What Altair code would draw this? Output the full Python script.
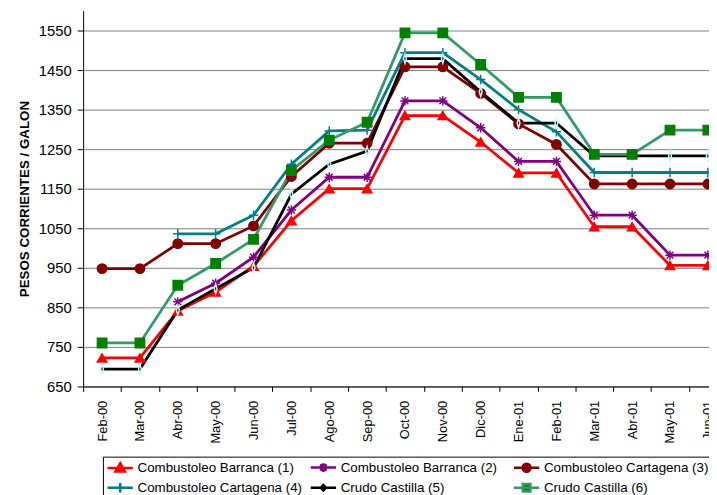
import altair as alt
import pandas as pd

months = ["Feb-00", "Mar-00", "Abr-00", "May-00", "Jun-00", "Jul-00", "Ago-00", "Sep-00",
          "Oct-00", "Nov-00", "Dic-00", "Ene-01", "Feb-01", "Mar-01", "Abr-01", "May-01", "Jun-01"]

series = ["Combustoleo Barranca (1)", "Combustoleo Barranca (2)", "Combustoleo Cartagena (3)",
          "Combustoleo Cartagena (4)", "Crudo Castilla (5)", "Crudo Castilla (6)"]

barranca_1 = [722, 722, 841, 889, 954, 1069, 1150, 1150, 1335, 1335, 1268, 1190, 1190, 1054, 1054, 956, 956]
barranca_2 = [None, None, 864, 911, 977, 1096, 1179, 1179, 1372, 1372, 1304, 1219, 1219, 1083, 1083, 982, 982]
cartagena_3 = [948, 948, 1011, 1011, 1056, 1181, 1265, 1265, 1458, 1458, 1391, 1314, 1262, 1162, 1162, 1162, 1162]
cartagena_4 = [None, None, 1036, 1036, 1083, 1212, 1296, 1298, 1494, 1494, 1426, 1350, 1294, 1191, 1191, 1191, 1191]
castilla_5 = [694, 694, 843, 897, 950, 1136, 1212, 1245, 1479, 1479, 1395, 1316, 1316, 1233, 1233, 1233, 1233]
castilla_6 = [760, 760, 906, 961, 1022, 1196, 1273, 1318, 1544, 1544, 1464, 1381, 1381, 1237, 1237, 1298, 1298]

y_ticks = [650, 750, 850, 950, 1050, 1150, 1250, 1350, 1450, 1550]

# styles
line_colors = ["#FF0000", "#800080", "#800000", "#008080", "#000000", "#339966"]
fill_colors = ["#FF0000", "#800080", "#800000", "#008080", "#000000", "#008000"]
stroke_colors = ["#FF0000", "#800080", "#800000", "#008080", "#BFF7FF", "#008000"]
asterisk = "M-1,0H1M0,-1V1M-0.72,-0.72L0.72,0.72M-0.72,0.72L0.72,-0.72"
plus = "M-1,0H1M0,-1V1"
sliver = "M0,-1L0.3,0L0,1L-0.3,0Z"
shapes = ["triangle-up", asterisk, "circle", plus, sliver, "square"]
sizes = [90, 90, 80, 90, 60, 100]

# legend symbols: line segment plus marker (1 unit = 6px)
legend_paths = [
    "M-2.13,0H2.13M0,-0.8L0.8,0.6L-0.8,0.6Z",
    "M-2.13,0H2.13M-0.73,0H0.73M0,-0.73V0.73M-0.53,-0.53L0.53,0.53M-0.53,0.53L0.53,-0.53",
    "M-2.13,0H2.13M-0.67,0A0.67,0.67 0 1,0 0.67,0A0.67,0.67 0 1,0 -0.67,0Z",
    "M-2.13,0H2.13M-0.8,0H0.8M0,-0.8V0.8",
    "M-2.13,0H2.13M0,-0.47L0.47,0L0,0.47L-0.47,0Z",
    "M-2.13,0H2.13M-0.64,-0.64H0.64V0.64H-0.64Z",
]

rows = []
for name, vals in zip(series, [barranca_1, barranca_2, cartagena_3, cartagena_4, castilla_5, castilla_6]):
    for m, v in zip(months, vals):
        if v is not None:
            rows.append({"mes": m, "serie": name, "valor": v})
df = pd.DataFrame(rows)

x_enc = alt.X(
    "mes:N",
    sort=months,
    scale=alt.Scale(type="band", paddingInner=0, paddingOuter=0, range=[0, 651]),
    axis=alt.Axis(title=None, labelAngle=-90, tickBand="extent", grid=False, labelFontSize=13,
                  labelPadding=9, tickSize=5, domainColor="#000000", tickColor="#000000",
                  labelColor="#000000"),
)
y_enc = alt.Y(
    "valor:Q",
    scale=alt.Scale(domain=[650, 1600], nice=False, zero=False),
    axis=alt.Axis(values=y_ticks, format="d", title="PESOS CORRIENTES / GALON", grid=True,
                  gridColor="#808080", domainColor="#000000", tickColor="#000000", tickSize=6,
                  labelFontSize=15, labelPadding=6, labelColor="#000000", titleFontSize=13.5,
                  titleFontWeight="bold", titlePadding=7, titleColor="#000000"),
)

leg = alt.Legend(
    title=None, orient="none", legendX=20, legendY=451, columns=3, direction="horizontal",
    gridAlign="all", labelFontSize=13.5, labelColor="#000000", labelLimit=400, symbolSize=144,
    symbolStrokeWidth=2.5, symbolOpacity=1, symbolOffset=7, labelOffset=10, rowPadding=0,
    columnPadding=2.5, padding=3, strokeColor="#000000", fillColor="#ffffff",
)

lines = (
    alt.Chart(df)
    .mark_line(strokeWidth=2.8)
    .encode(
        x=x_enc,
        y=y_enc,
        color=alt.Color("serie:N", scale=alt.Scale(domain=series, range=line_colors), legend=None),
    )
)

points = (
    alt.Chart(df)
    .mark_point(filled=True, strokeWidth=1.5, opacity=1)
    .encode(
        x=x_enc,
        y=y_enc,
        fill=alt.Fill("serie:N", scale=alt.Scale(domain=series, range=fill_colors), legend=None),
        stroke=alt.Stroke("serie:N", scale=alt.Scale(domain=series, range=stroke_colors), legend=None),
        shape=alt.Shape("serie:N", scale=alt.Scale(domain=series, range=shapes), legend=None),
        size=alt.Size("serie:N", scale=alt.Scale(domain=series, range=sizes), legend=None),
    )
)

# invisible layer that only carries the legend
legend_layer = (
    alt.Chart(df)
    .mark_point(filled=True, opacity=0)
    .encode(
        x=x_enc,
        y=y_enc,
        fill=alt.Fill("serie:N", scale=alt.Scale(domain=series, range=fill_colors), legend=leg),
        stroke=alt.Stroke("serie:N", scale=alt.Scale(domain=series, range=line_colors), legend=leg),
        shape=alt.Shape("serie:N", scale=alt.Scale(domain=series, range=legend_paths), legend=leg),
    )
)

chart = (
    alt.layer(lines, points, legend_layer)
    .resolve_scale(fill="independent", stroke="independent", shape="independent", size="independent")
    .properties(
        width=633,
        height=380,
        autosize=alt.AutoSizeParams(type="none"),
        padding={"left": 76, "top": 0, "right": 0, "bottom": 107},
    )
    .configure(font="Liberation Sans")
    .configure_view(stroke=None)
)

chart.save("out.html", embed_options={"renderer": "svg", "actions": False})
